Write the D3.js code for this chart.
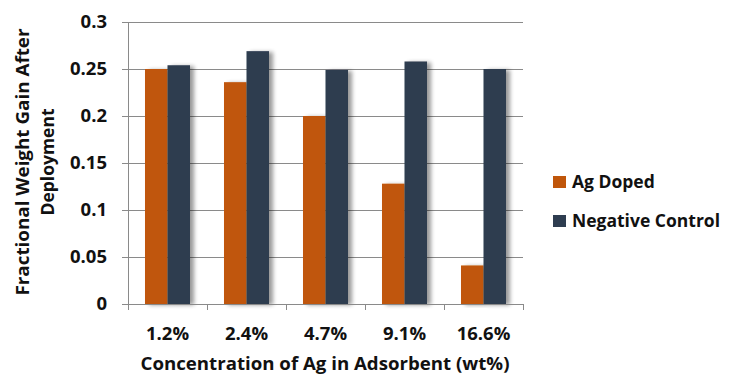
<!DOCTYPE html>
<html>
<head>
<meta charset="utf-8">
<script src="https://cdn.jsdelivr.net/npm/d3@7"></script>
<style>
  html, body { margin: 0; padding: 0; background: #fff; }
  svg text { font-family: "Open Sans", sans-serif; font-weight: bold; fill: #111; }
</style>
</head>
<body>
<svg id="chart" width="732" height="374"></svg>
<script>
// Weight gain per Ag loading, doped vs. control
const categories = ["1.2%", "2.4%", "4.7%", "9.1%", "16.6%"];
const seriesNames = ["Ag Doped", "Negative Control"];
const agDoped = [0.25, 0.236, 0.2, 0.128, 0.041];
const negativeControl = [0.254, 0.269, 0.249, 0.258, 0.25];
const yTicks = [0, 0.05, 0.1, 0.15, 0.2, 0.25, 0.3];
const yTickLabels = ["0", "0.05", "0.1", "0.15", "0.2", "0.25", "0.3"];
const colors = ["#C0560A", "#2E3D50"];

const svg = d3.select("#chart");
const plot = { left: 128, right: 523, top: 22, bottom: 304 };

const x0 = d3.scaleBand().domain(categories).range([plot.left, plot.right]).padding(0);
const x1 = d3.scaleBand().domain(seriesNames).range([0, x0.bandwidth()]).paddingInner(0).paddingOuter(0.755);
const y = d3.scaleLinear().domain([0, 0.3]).range([plot.bottom, plot.top]);
const color = d3.scaleOrdinal().domain(seriesNames).range(colors);

// soft shadow to the right of bars
const defs = svg.append("defs");
const f = defs.append("filter").attr("id", "shadow").attr("x", "-30%").attr("y", "-10%").attr("width", "170%").attr("height", "120%");
f.append("feGaussianBlur").attr("in", "SourceAlpha").attr("stdDeviation", 2).attr("result", "b");
f.append("feOffset").attr("in", "b").attr("dx", 4).attr("dy", 1).attr("result", "o");
f.append("feComponentTransfer").attr("in", "o").attr("result", "s")
  .append("feFuncA").attr("type", "linear").attr("slope", 0.4);
const m = f.append("feMerge");
m.append("feMergeNode").attr("in", "s");
m.append("feMergeNode").attr("in", "SourceGraphic");

// gridlines and y ticks
const yAxis = d3.axisLeft(y).tickValues(yTicks)
  .tickSize(-(plot.right - plot.left)).tickPadding(21)
  .tickFormat((d, i) => yTickLabels[i]);
const gy = svg.append("g").attr("transform", `translate(${plot.left},0)`).call(yAxis);
gy.select(".domain").remove();
gy.selectAll(".tick line").attr("stroke", "#8a8a8a").attr("stroke-width", 1).attr("x1", -6);
gy.selectAll(".tick text").style("font-size", "18.5px").attr("fill", "#111");

// bars
const rows = categories.map((c, i) => ({ cat: c, values: [agDoped[i], negativeControl[i]] }));
const groups = svg.append("g").selectAll("g").data(rows).join("g")
  .attr("transform", d => `translate(${x0(d.cat)},0)`);
groups.selectAll("rect").data(d => d.values.map((v, j) => ({ key: seriesNames[j], value: v })))
  .join("rect")
  .attr("x", d => x1(d.key))
  .attr("width", x1.bandwidth())
  .attr("y", d => y(d.value))
  .attr("height", d => y(0) - y(d.value))
  .attr("fill", d => color(d.key))
  .attr("filter", "url(#shadow)");

// x axis
const xAxis = d3.axisBottom(x0).tickSize(0).tickPadding(23);
const gx = svg.append("g").attr("transform", `translate(0,${plot.bottom})`).call(xAxis);
gx.select(".domain").remove();
gx.selectAll(".tick text").style("font-size", "18.5px").attr("fill", "#111");
svg.append("line").attr("x1", plot.left).attr("x2", plot.right)
  .attr("y1", plot.bottom + 0.5).attr("y2", plot.bottom + 0.5).attr("stroke", "#8a8a8a");
svg.append("line").attr("x1", plot.left + 0.5).attr("x2", plot.left + 0.5)
  .attr("y1", plot.top).attr("y2", plot.bottom + 6).attr("stroke", "#8a8a8a");
const xEdges = categories.map(c => x0(c)).concat([plot.right]);
svg.append("g").selectAll("line").data(xEdges).join("line")
  .attr("x1", d => Math.round(d) + 0.5).attr("x2", d => Math.round(d) + 0.5)
  .attr("y1", plot.bottom).attr("y2", plot.bottom + 6).attr("stroke", "#8a8a8a");

// axis titles
svg.append("text").attr("x", 325).attr("y", 370)
  .attr("text-anchor", "middle").style("font-size", "18px")
  .attr("textLength", 369).attr("lengthAdjust", "spacingAndGlyphs")
  .text("Concentration of Ag in Adsorbent (wt%)");
const yt = svg.append("text").attr("transform", "translate(0,162) rotate(-90)")
  .attr("text-anchor", "middle").style("font-size", "17.5px");
yt.append("tspan").attr("x", 0).attr("y", 29)
  .attr("textLength", 267).attr("lengthAdjust", "spacingAndGlyphs")
  .text("Fractional Weight Gain After");
yt.append("tspan").attr("x", 0).attr("y", 54).text("Deployment");

// legend
const lg = svg.append("g").selectAll("g").data(seriesNames).join("g")
  .attr("transform", (d, i) => `translate(553,${176 + i * 39})`);
lg.append("rect").attr("width", 13).attr("height", 12).attr("fill", d => color(d));
lg.append("text").attr("x", 19).attr("y", 12).style("font-size", "17.5px").text(d => d);
</script>
</body>
</html>
